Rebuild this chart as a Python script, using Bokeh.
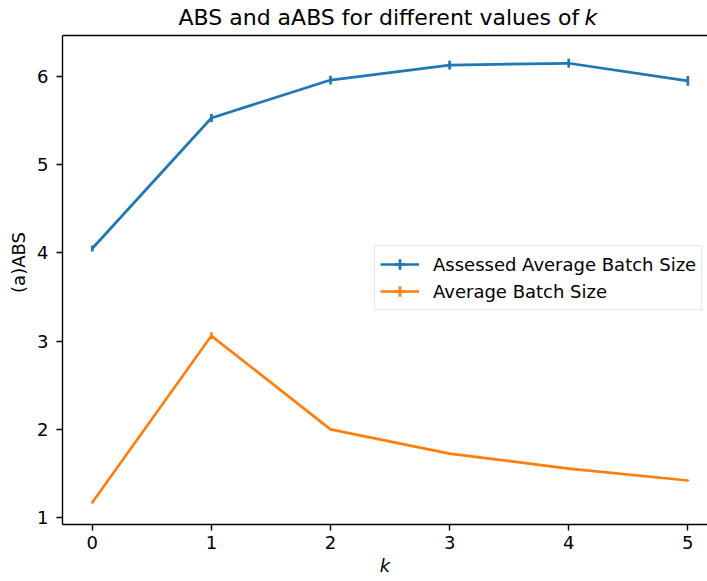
import math
from bokeh.plotting import figure
from bokeh.models import (Label, Legend, LegendItem, FixedTicker, Span,
                          ColumnDataSource, Range1d)
from bokeh.embed import file_html
from bokeh.resources import INLINE

# ---------------- data ----------------
k_values = [0, 1, 2, 3, 4, 5]
aabs_values = [4.05, 5.53, 5.96, 6.13, 6.15, 5.95]
aabs_errors = [0.035, 0.045, 0.05, 0.05, 0.05, 0.055]
abs_values = [1.17, 3.06, 2.00, 1.725, 1.555, 1.42]
abs_errors = [0.01, 0.04, 0.01, 0.01, 0.01, 0.01]
x_ticks = [0, 1, 2, 3, 4, 5]
y_ticks = [1, 2, 3, 4, 5, 6]
title_main = "ABS and aABS for different values of"
title_var = "k"
x_label = "k"
y_label = "(a)ABS"
series_names = ["Assessed Average Batch Size", "Average Batch Size"]
colors = ["#1f77b4", "#ff7f0e"]

# ---------------- layout ----------------
FONT = "DejaVu Sans"
W, H = 707, 581
LEFT, BOTTOM = 62, 57
AX_TOP_PX = 35                     # where the top spine sits
X0, X1 = -0.25, 5.165
Y0, Y_TOP = 0.921, 6.465           # visible axes box (matplotlib-like)
frame_h = H - BOTTOM
px_per_y = (frame_h - AX_TOP_PX) / (Y_TOP - Y0)
Y1 = Y_TOP + AX_TOP_PX / px_per_y  # frame extends to canvas top so title fits inside
px_per_x = (W - LEFT) / (X1 - X0)

p = figure(width=W, height=H, output_backend="svg", toolbar_location=None,
           x_range=Range1d(X0, X1), y_range=Range1d(Y0, Y1),
           min_border_left=LEFT, min_border_right=0,
           min_border_top=0, min_border_bottom=BOTTOM)
p.title.visible = False
p.background_fill_color = "white"
p.border_fill_color = "white"
p.outline_line_color = None
p.xgrid.visible = False
p.ygrid.visible = False

for ax in (p.xaxis, p.yaxis):
    ax.axis_line_width = 1.4
    ax.axis_line_color = "black"
    ax.major_tick_line_width = 1.4
    ax.major_tick_line_color = "black"
    ax.major_tick_out = 6
    ax.major_tick_in = 0
    ax.minor_tick_line_color = None
    ax.major_label_text_font = FONT
    ax.major_label_text_font_size = "18px"
    ax.major_label_text_color = "black"
    ax.axis_label_text_font = FONT
    ax.axis_label_text_font_size = "18px"
    ax.axis_label_text_color = "black"

p.xaxis.ticker = FixedTicker(ticks=x_ticks)
p.yaxis.ticker = FixedTicker(ticks=y_ticks)
p.yaxis.bounds = (Y0, Y_TOP)
p.xaxis.axis_label = x_label
p.xaxis.axis_label_text_font_style = "italic"
p.yaxis.axis_label = y_label
p.yaxis.axis_label_text_font_style = "normal"
p.xaxis.major_label_standoff = 5
p.yaxis.major_label_standoff = 8
p.xaxis.axis_label_standoff = 3
p.yaxis.axis_label_standoff = 5

# top spine
p.add_layout(Span(location=Y_TOP, dimension="width", line_color="black",
                  line_width=1.4))

# ---------------- series ----------------
series = [
    (aabs_values, aabs_errors, series_names[0], colors[0]),
    (abs_values, abs_errors, series_names[1], colors[1]),
]
items = []
for vals, errs, name, col in series:
    src = ColumnDataSource(dict(
        x=k_values, y=vals,
        lo=[v - e for v, e in zip(vals, errs)],
        hi=[v + e for v, e in zip(vals, errs)],
    ))
    ln = p.line("x", "y", source=src, line_color=col, line_width=2.7)
    p.segment(x0="x", y0="lo", x1="x", y1="hi", source=src,
              line_color=col, line_width=2.7)
    # zero-size cross markers: invisible on the plot, give the "+" legend glyph
    key = p.scatter("x", "y", source=src, marker="cross", size=0,
                    line_color=col, line_width=2.7)
    items.append(LegendItem(label=name, renderers=[ln, key]))

legend = Legend(items=items, location=(312, 214), glyph_width=39, glyph_height=26,
                label_height=20, label_standoff=14, padding=5, spacing=1, margin=0,
                label_text_font=FONT, label_text_font_size="18px",
                label_text_color="black",
                border_line_color="#cccccc", border_line_width=1,
                background_fill_color="white", background_fill_alpha=0.8)
p.add_layout(legend)

# ---------------- title (with italic k) ----------------
def px_to_x(px):
    return X0 + (px - LEFT) / px_per_x

title_baseline_y = Y_TOP + 18 / px_per_y
p.add_layout(Label(x=px_to_x(178), y=title_baseline_y, text=title_main,
                   text_font=FONT, text_font_size="22px", text_color="black",
                   text_align="left", text_baseline="alphabetic"))
p.add_layout(Label(x=px_to_x(584), y=title_baseline_y, text=title_var,
                   text_font=FONT, text_font_size="22px", text_color="black",
                   text_font_style="italic",
                   text_align="left", text_baseline="alphabetic"))

open("out.html", "w").write(file_html(p, INLINE))
